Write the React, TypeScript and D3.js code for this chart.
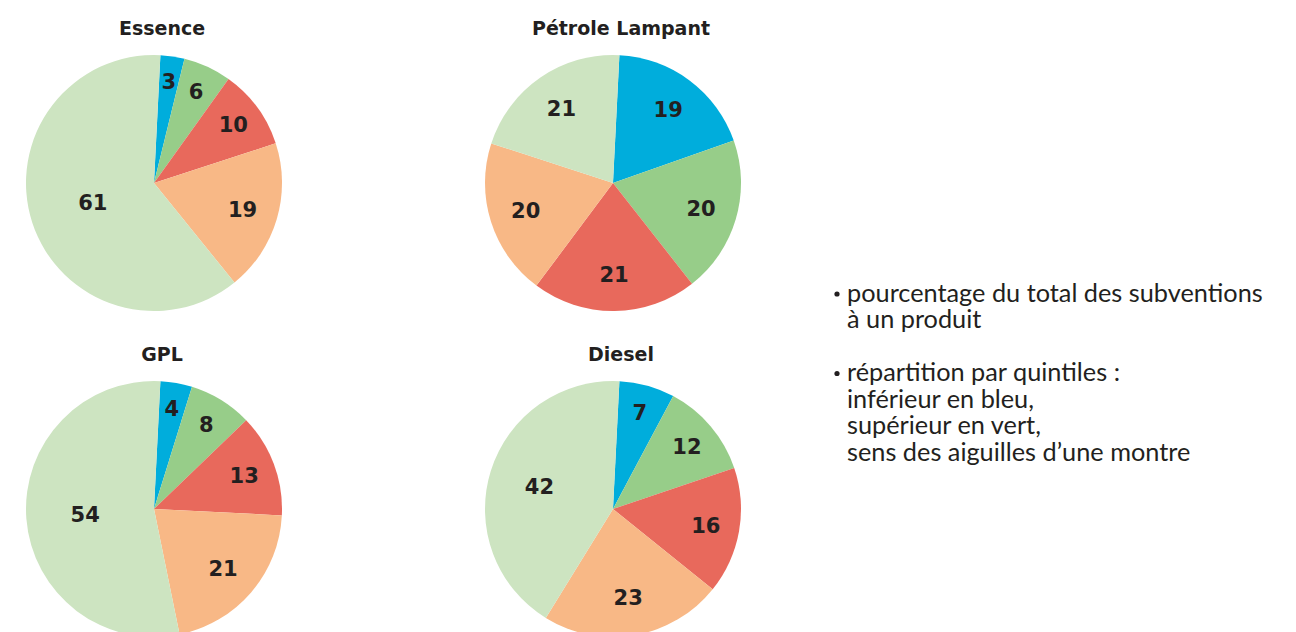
import { useEffect, useRef } from 'react';
import * as d3 from 'd3';

// quintiles, from lowest (blue) to highest (light green), clockwise
const quintiles = ['Q1', 'Q2', 'Q3', 'Q4', 'Q5'];
const quintileColors = ['#00addc', '#97cd89', '#e8695c', '#f8b886', '#cde4c1'];

const products = ['Essence', 'Pétrole Lampant', 'GPL', 'Diesel'];
const essence = [3, 6, 10, 19, 61];
const petrole = [19, 20, 21, 20, 21];
const gpl = [4, 8, 13, 21, 54];
const diesel = [7, 12, 16, 23, 42];
const seriesValues = [essence, petrole, gpl, diesel];

const noteLines = [
  ['pourcentage du total des subventions', 'à un produit'],
  ['répartition par quintiles :', 'inférieur en bleu,', 'supérieur en vert,', 'sens des aiguilles d’une montre'],
];

export default function App() {
  const ref = useRef<SVGSVGElement>(null);

  useEffect(() => {
    if (!ref.current) return;
    const svg = d3.select(ref.current);
    svg.selectAll('*').remove();

    const width = 1296;
    const height = 632;
    const radius = 128;
    svg.attr('width', width).attr('height', height);

    const colX = d3.scalePoint<number>().domain([0, 1]).range([154, 613]);
    const rowY = d3.scalePoint<number>().domain([0, 1]).range([183, 509]);
    const color = d3.scaleOrdinal<string, string>().domain(quintiles).range(quintileColors);

    const a0 = 0.05;
    const pie = d3.pie<number>().sort(null).startAngle(a0).endAngle(a0 + 2 * Math.PI);
    const arc = d3.arc<d3.PieArcDatum<number>>().innerRadius(0).outerRadius(radius);

    products.forEach((name, i) => {
      const cx = colX(i % 2)!;
      const cy = rowY(Math.floor(i / 2))!;
      const g = svg.append('g').attr('transform', `translate(${cx},${cy})`);
      const slices = pie(seriesValues[i]);

      g.selectAll('path')
        .data(slices)
        .join('path')
        .attr('d', arc)
        .attr('fill', (d, j) => color(quintiles[j]));

      // small slices get their label further out
      g.selectAll('text.lbl')
        .data(slices)
        .join('text')
        .attr('class', 'lbl')
        .attr('transform', d => {
          const lr = radius * (0.82 - 0.52 * d.data / 100);
          const c = d3.arc<d3.PieArcDatum<number>>().innerRadius(lr).outerRadius(lr).centroid(d);
          return `translate(${c[0]},${c[1]})`;
        })
        .attr('text-anchor', 'middle')
        .attr('dy', '0.36em')
        .style('font-family', '"DejaVu Sans", sans-serif')
        .style('font-weight', 'bold')
        .style('font-size', '21px')
        .style('fill', '#231f20')
        .text(d => d.data);

      svg.append('text')
        .attr('x', cx + 8)
        .attr('y', cy - 148)
        .attr('text-anchor', 'middle')
        .style('font-family', '"DejaVu Sans", sans-serif')
        .style('font-weight', 'bold')
        .style('font-size', '19px')
        .style('fill', '#231f20')
        .text(name);
    });

    // notes on the right
    const notes = svg.append('g')
      .style('font-family', 'Lato, sans-serif')
      .style('font-size', '25px')
      .style('fill', '#231f20');

    let y = 302;
    const lineTexts: SVGTextElement[] = [];
    noteLines.forEach(lines => {
      notes.append('circle').attr('cx', 837).attr('cy', y - 8).attr('r', 2.6);
      lines.forEach(line => {
        const t = notes.append('text').attr('y', y).text(line);
        lineTexts.push(t.node()!);
        y += 26.5;
      });
      y += 26.5;
    });

    // squeeze the note text to the condensed width of the original
    const k = 416 / lineTexts[0].getComputedTextLength();
    lineTexts.forEach(t => {
      d3.select(t).attr('transform', `translate(847,0) scale(${k},1)`);
    });
  }, []);

  return (
    <div style={{ position: 'absolute', left: 0, top: 0 }}>
      <svg ref={ref} style={{ display: 'block' }}></svg>
    </div>
  );
}
